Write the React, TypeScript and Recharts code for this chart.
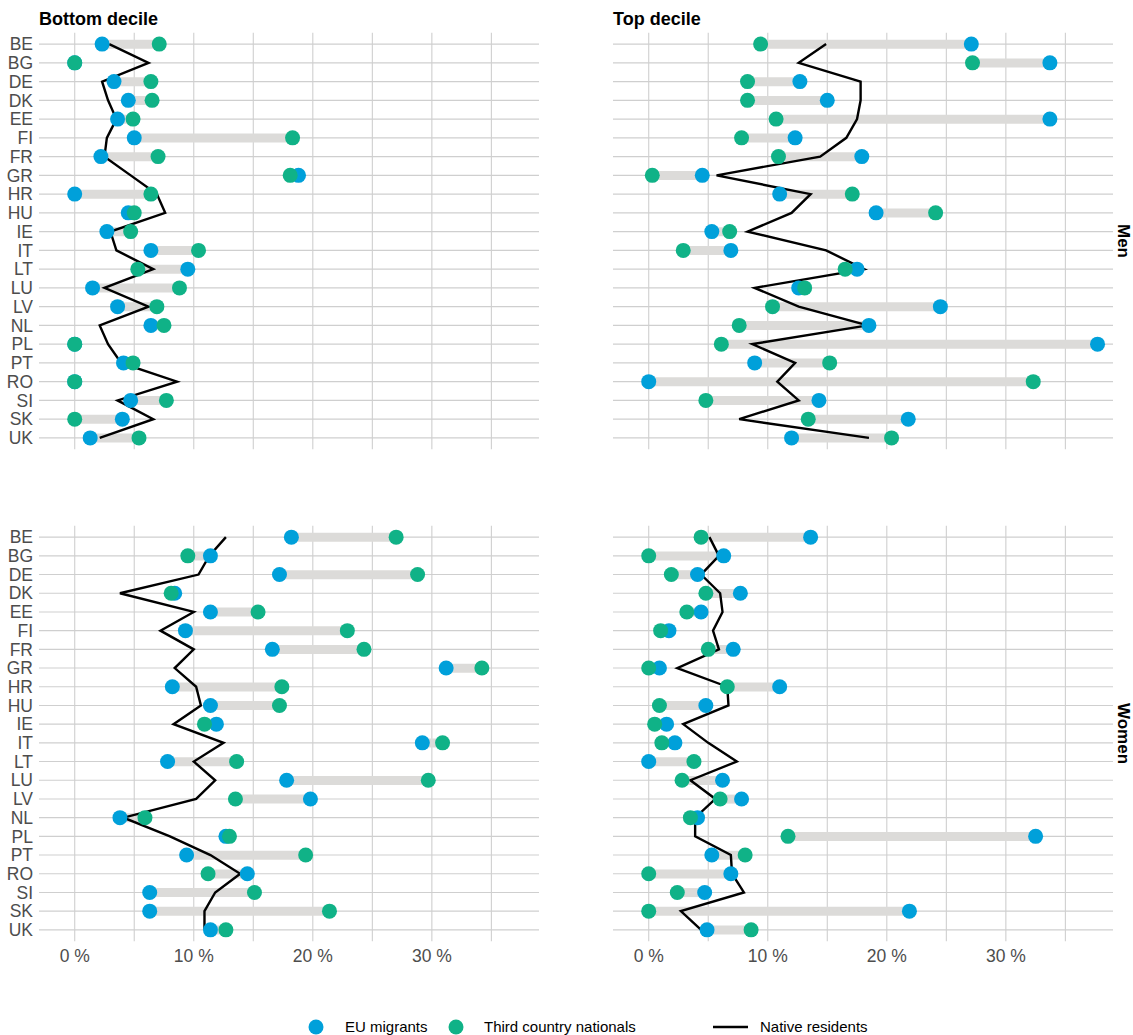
import { ComposedChart, Bar, Line, Scatter, XAxis, YAxis, CartesianGrid } from "recharts";

const countries = ["BE", "BG", "DE", "DK", "EE", "FI", "FR", "GR", "HR", "HU", "IE", "IT", "LT", "LU", "LV", "NL", "PL", "PT", "RO", "SI", "SK", "UK"];

// Men, bottom decile
const menBottomEU = [2.3, 0, 3.3, 4.5, 3.6, 5.0, 2.2, 18.8, 0, 4.5, 2.7, 6.4, 9.5, 1.5, 3.6, 6.4, 0, 4.1, 0, 4.7, 4.0, 1.3];
const menBottomTCN = [7.1, 0, 6.4, 6.5, 4.9, 18.3, 7.0, 18.1, 6.4, 5.0, 4.7, 10.4, 5.3, 8.8, 6.9, 7.5, 0, 4.9, 0, 7.7, 0, 5.4];
const menBottomNative = [2.9, 6.2, 2.3, 2.8, 3.5, 2.7, 2.5, 4.7, 6.9, 7.6, 3.0, 3.5, 6.6, 2.5, 6.2, 2.1, 2.8, 3.9, 8.6, 3.6, 6.6, 2.1];

// Men, top decile
const menTopEU = [27.1, 33.7, 12.7, 15.0, 33.7, 12.3, 17.9, 4.5, 11.0, 19.1, 5.3, 6.9, 17.5, 12.6, 24.5, 18.5, 37.7, 8.9, 0, 14.3, 21.8, 12.0];
const menTopTCN = [9.4, 27.2, 8.3, 8.3, 10.7, 7.8, 10.9, 0.3, 17.1, 24.1, 6.8, 2.9, 16.5, 13.1, 10.4, 7.6, 6.1, 15.2, 32.3, 4.8, 13.4, 20.4];
const menTopNative = [14.9, 12.6, 17.8, 17.8, 17.5, 16.6, 14.4, 5.7, 13.6, 12.0, 8.3, 14.9, 18.1, 8.9, 12.6, 18.4, 8.7, 12.3, 10.8, 12.6, 7.6, 18.5];

// Women, bottom decile
const womenBottomEU = [18.2, 11.4, 17.2, 8.4, 11.4, 9.3, 16.6, 31.2, 8.2, 11.4, 11.9, 29.2, 7.8, 17.8, 19.8, 3.8, 12.7, 9.4, 14.5, 6.3, 6.3, 11.4];
const womenBottomTCN = [27.0, 9.5, 28.8, 8.1, 15.4, 22.9, 24.3, 34.2, 17.4, 17.2, 10.9, 30.9, 13.6, 29.7, 13.5, 5.9, 13.0, 19.4, 11.2, 15.1, 21.4, 12.7];
const womenBottomNative = [12.7, 11.3, 10.4, 3.8, 10.0, 7.2, 10.0, 8.4, 10.2, 10.6, 8.3, 12.5, 10.0, 11.8, 10.2, 4.1, 8.0, 11.4, 13.9, 11.8, 10.9, 10.9];

// Women, top decile
const womenTopEU = [13.6, 6.3, 4.1, 7.7, 4.4, 1.7, 7.1, 0.9, 11.0, 4.8, 1.5, 2.2, 0, 6.2, 7.8, 4.1, 32.5, 5.3, 6.9, 4.7, 21.9, 4.9];
const womenTopTCN = [4.4, 0, 1.9, 4.8, 3.2, 1.0, 5.0, 0, 6.6, 0.9, 0.5, 1.1, 3.8, 2.8, 6.0, 3.5, 11.7, 8.1, 0, 2.4, 0, 8.6];
const womenTopNative = [5.1, 5.9, 4.4, 6.0, 6.2, 5.4, 5.9, 2.4, 6.6, 6.7, 2.9, 5.0, 7.4, 3.5, 5.6, 3.9, 3.9, 6.9, 7.0, 8.0, 2.7, 4.4];

const xTicks = [0, 5, 10, 15, 20, 25, 30, 35];

const EU_COLOR = "#00a0da";
const TCN_COLOR = "#10b287";
const SEG_COLOR = "#dcdbd9";
const GRID_COLOR = "#cfcfcf";
const FONT = "'Liberation Sans', Arial, sans-serif";

type Row = { country: string; eu: number; tcn: number; native: number };

const buildRows = (eu: number[], tcn: number[], native: number[]): Row[] =>
  countries.map((c, i) => ({ country: c, eu: eu[i], tcn: tcn[i], native: native[i] }));

type PanelProps = {
  rows: Row[];
  left: boolean;
  bottom: boolean;
};

const W = 1133;
const H = 1035;

const Dot = (color: string) => (p: any) =>
  p.cx == null || p.cy == null ? <g /> : <circle cx={p.cx} cy={p.cy} r={7.5} fill={color} />;

const Panel = ({ rows, left, bottom }: PanelProps) => {
  const plotTop = bottom ? 525.8 : 32.7;
  const plotBottom = bottom ? 941.2 : 449.3;
  const xAxisH = bottom ? 40 : 0;
  const margin = {
    top: plotTop,
    bottom: H - plotBottom - xAxisH,
    left: left ? 0 : 613,
    right: left ? W - 539 : W - 1113,
  };

  return (
    <div style={{ position: "absolute", left: 0, top: 0 }}>
      <ComposedChart width={W} height={H} data={rows} layout="vertical" margin={margin}>
        <CartesianGrid stroke={GRID_COLOR} strokeWidth={1.1} syncWithTicks />
        <XAxis
          type="number"
          domain={[-3, 39]}
          ticks={xTicks}
          hide={!bottom}
          height={xAxisH}
          axisLine={false}
          tickLine={false}
          tickSize={0}
          tickMargin={8}
          interval={0}
          tickFormatter={(v: number) => (v % 10 === 0 ? `${v} %` : "")}
          tick={{ fill: "#4d4d4d", fontSize: 17.5, fontFamily: FONT }}
        />
        <YAxis
          type="category"
          dataKey="country"
          hide={!left}
          width={39}
          axisLine={false}
          tickLine={false}
          tickSize={0}
          tickMargin={6}
          interval={0}
          padding={{ top: 2, bottom: 2 }}
          tick={{ fill: "#4d4d4d", fontSize: 17.5, fontFamily: FONT }}
        />
        <Bar
          dataKey={(d: Row) => [Math.min(d.eu, d.tcn), Math.max(d.eu, d.tcn)]}
          fill={SEG_COLOR}
          barSize={9}
          isAnimationActive={false}
        />
        <Line
          dataKey="native"
          stroke="#000000"
          strokeWidth={2.4}
          dot={false}
          type="linear"
          isAnimationActive={false}
        />
        <Scatter dataKey="eu" shape={Dot(EU_COLOR)} isAnimationActive={false} />
        <Scatter dataKey="tcn" shape={Dot(TCN_COLOR)} isAnimationActive={false} />
      </ComposedChart>
    </div>
  );
};

const App = () => {
  return (
    <div style={{ position: "relative", width: W, height: H, fontFamily: FONT, background: "#fff" }}>
      <style>{"body{margin:0}"}</style>
      <Panel rows={buildRows(menBottomEU, menBottomTCN, menBottomNative)} left bottom={false} />
      <Panel rows={buildRows(menTopEU, menTopTCN, menTopNative)} left={false} bottom={false} />
      <Panel rows={buildRows(womenBottomEU, womenBottomTCN, womenBottomNative)} left bottom />
      <Panel rows={buildRows(womenTopEU, womenTopTCN, womenTopNative)} left={false} bottom />

      <svg width={W} height={H} style={{ position: "absolute", left: 0, top: 0, pointerEvents: "none" }}>
        <g fontFamily={FONT} fontWeight="bold" fontSize={18} fill="#000">
          <text x={39} y={24.5}>Bottom decile</text>
          <text x={613} y={24.5}>Top decile</text>
        </g>
        <g fontFamily={FONT} fontWeight="bold" fontSize={17} fill="#000">
          <text x={1123} y={241} textAnchor="middle" dominantBaseline="central" transform="rotate(90 1123 241)">
            Men
          </text>
          <text x={1123} y={733.5} textAnchor="middle" dominantBaseline="central" transform="rotate(90 1123 733.5)">
            Women
          </text>
        </g>
        <g fontFamily={FONT} fontSize={15} fill="#000">
          <circle cx={316} cy={1027} r={7.5} fill={EU_COLOR} />
          <text x={345} y={1032}>EU migrants</text>
          <circle cx={456} cy={1027} r={7.5} fill={TCN_COLOR} />
          <text x={484} y={1032}>Third country nationals</text>
          <line x1={713} x2={748} y1={1027} y2={1027} stroke="#000" strokeWidth={2.4} />
          <text x={760} y={1032}>Native residents</text>
        </g>
      </svg>
    </div>
  );
};

export default App;
